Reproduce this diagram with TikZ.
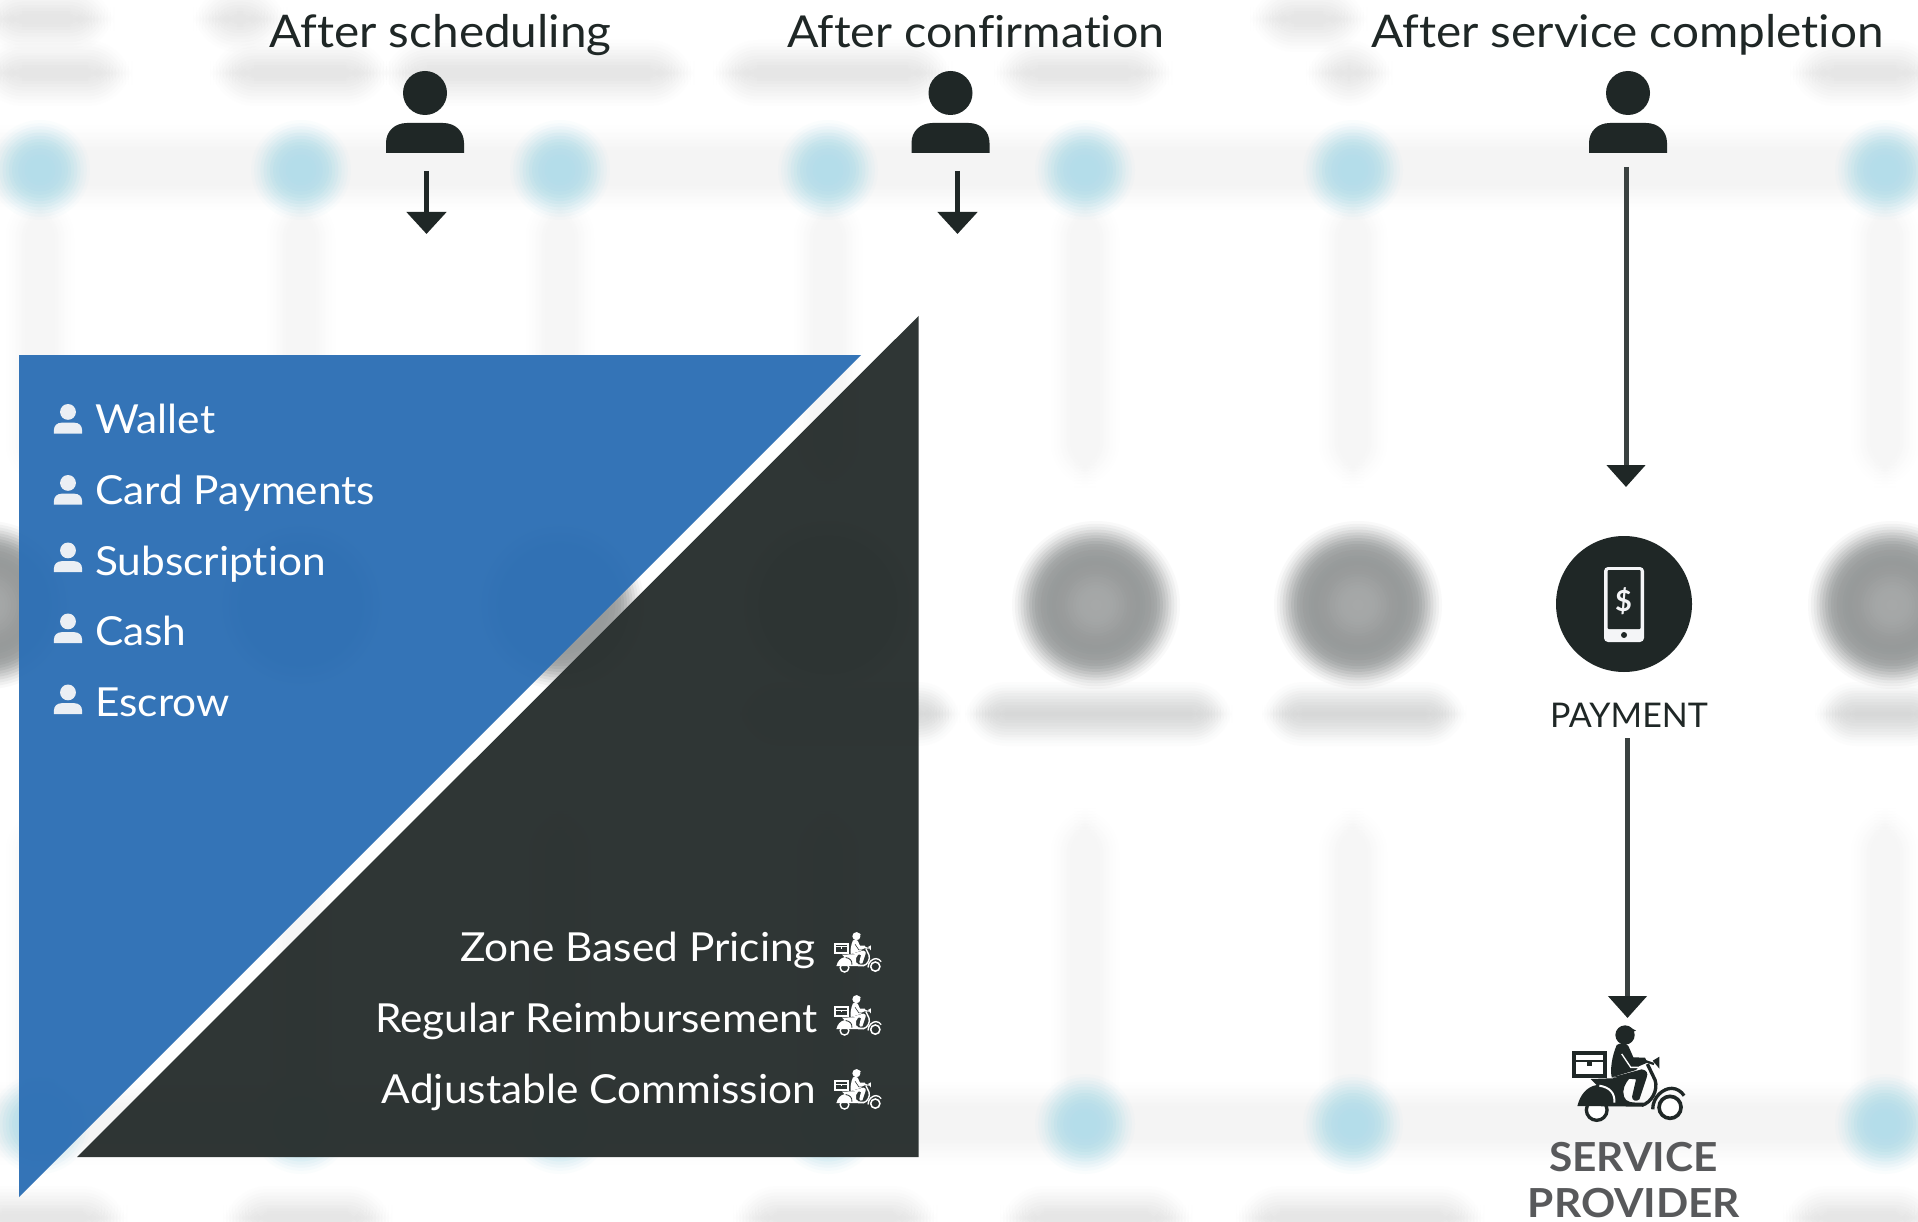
\documentclass[tikz,border=0pt]{standalone}
\usepackage{fontspec}
\usetikzlibrary{arrows.meta}
\setmainfont{Lato}
\newfontfamily\lightfont[FakeStretch=1.06,Ligatures=NoCommon]{Lato}
\newfontfamily\provfont[FakeStretch=1.06]{Lato}
\definecolor{ink}{HTML}{1F2726}
\definecolor{stem}{HTML}{3A4140}
\definecolor{boxblue}{HTML}{2E70B5}
\definecolor{boxdark}{HTML}{2B3231}
\definecolor{softwhite}{HTML}{EBEFF4}
\definecolor{phonewhite}{HTML}{F4F5F7}
\definecolor{dotblue}{HTML}{AEDDEA}
\definecolor{bandgrey}{HTML}{F4F4F4}
\definecolor{stemgrey}{HTML}{F6F6F6}
\definecolor{blobgrey}{HTML}{8C9090}
\definecolor{blobcore}{HTML}{ACAEAE}
\definecolor{textblur}{HTML}{D6D7D7}
\definecolor{topblur}{HTML}{E6E6E6}
\definecolor{headgrey}{HTML}{58595B}
\newcommand\blurbox[6]{%
  \foreach \k in {-7,...,7}{%
    \pgfmathsetmacro\dd{\k*#6/7}
    \pgfmathsetmacro\rr{#6+\dd+1}
    \pgfmathsetmacro\aa{0.05+0.17*(1-abs(\k)/7)}
    \fill[#5,opacity=\aa,rounded corners=\rr pt]
      ({#1-\dd},{#2-\dd}) rectangle ({#3+\dd},{#4+\dd});
  }}
\newcommand\blurdisc[5]{%
  \foreach \k in {-7,...,7}{%
    \pgfmathsetmacro\dd{#3+\k*#5/7}
    \pgfmathsetmacro\aa{0.05+0.17*(1-abs(\k)/7)}
    \fill[#4,opacity=\aa] (#1,#2) circle[radius=\dd];
  }}
\newcommand\personicon[4]{%
  \begin{scope}[shift={(#1,#2)},scale=#3]
    \fill[#4] (0,22) circle[radius=22];
    \fill[#4] (-39,82) -- (-39,72) .. controls (-39,60) and (-30,52) .. (-18,52)
      -- (18,52) .. controls (30,52) and (39,60) .. (39,72) -- (39,82) -- cycle;
  \end{scope}}
\newcommand\scooter[5]{%
  \begin{scope}[shift={(#1,#2)},scale=#3/3,shift={(-215,-135)}]
    \draw[#4,fill=#5,line width=10/3*#3 pt] (290,390) circle[radius=31];
    \draw[#4,fill=#5,line width=11/3*#3 pt] (510,382) circle[radius=33];
    \fill[#4] (232,378) .. controls (240,345) and (260,320) .. (290,315) -- (272,297)
      -- (390,293) .. controls (375,310) and (365,330) .. (372,350)
      .. controls (378,368) and (395,368) .. (430,368) -- (430,380) -- cycle;
    \draw[#5,line width=6/3*#3 pt] (298,317) .. controls (330,322) and (345,340) .. (343,368);
    \draw[#4,line width=10/3*#3 pt] (442,252) -- (465,300) .. controls (475,330) and (455,368) .. (425,376);
    \draw[#4,line width=10/3*#3 pt] (458,388) .. controls (458,350) and (490,325) .. (515,325)
      .. controls (530,325) and (545,335) .. (552,347);
    \fill[#4] (335,292) -- (425,268) .. controls (440,270) and (445,280) .. (440,292)
      -- (418,358) .. controls (410,366) and (395,362) .. (396,350) -- (408,298) -- cycle;
    \fill[#4] (350,195) .. controls (360,188) and (378,188) .. (385,198) -- (400,232) -- (435,233)
      -- (442,248) -- (418,258) -- (408,270) -- (335,292) .. controls (330,270) and (335,230) .. (350,195) -- cycle;
    \draw[#5,line width=4/3*#3 pt] (365,222) -- (392,262) -- (418,262);
    \fill[#4] (375,165) circle[radius=29];
    \fill[#4] (382,138) -- (408,152) -- (385,160) -- cycle;
    \fill[#4] (458,242) -- (478,230) -- (478,266) -- cycle;
    \draw[#4,line width=7/3*#3 pt] (432,242) -- (462,252);
    \draw[#4,line width=12/3*#3 pt] (221,219) rectangle (316,287);
    \draw[#4,line width=7/3*#3 pt] (221,242) -- (316,242);
    \fill[#4] (262,242) rectangle (275,258);
  \end{scope}}
\tikzset{
  headtext/.style={inner sep=0pt,text=ink,font=\lightfont\fontsize{45}{45}\selectfont},
  listtext/.style={inner sep=0pt,text=white,font=\lightfont\fontsize{40}{40}\selectfont},
  capstext/.style={inner sep=0pt,text=ink,font=\fontsize{34}{34}\selectfont},
  provtext/.style={inner sep=0pt,text=headgrey,font=\provfont\bfseries\fontsize{40}{40}\selectfont},
  arrowshort/.style={draw=ink,line width=5pt,-{Triangle[length=22pt,width=39pt,color=ink,fill=ink]}},
  arrowlong/.style={draw=stem,line width=5pt,-{Triangle[length=22pt,width=38pt,color=ink,fill=ink]}},
}
\begin{document}
\begin{tikzpicture}[x=1pt,y=-1pt]
\clip (0,0) rectangle (1918,1222);
\fill[white] (0,0) rectangle (1918,1222);
% blurred backdrop: bands and stems
\blurbox{-30}{150}{1950}{186}{bandgrey}{24}
\blurbox{-30}{1106}{1950}{1140}{bandgrey}{24}
\foreach \cx in {40,301,560,828,1085,1353,1885}{
  \blurbox{\cx-12}{215}{\cx+12}{465}{stemgrey}{22}
  \blurbox{\cx-12}{830}{\cx+12}{1100}{stemgrey}{22}
  \blurdisc{\cx}{170}{28}{dotblue}{22}
  \blurdisc{\cx}{1124}{28}{dotblue}{22}
}
% blurred discs
\foreach \cx in {-12,301,560,828,1096,1358,1892}{
  \blurdisc{\cx}{605}{64}{blobgrey}{20}
  \blurdisc{\cx}{605}{20}{blobcore}{20}
}
% blurred texts
\blurbox{0}{8}{92}{30}{topblur}{22}
\blurbox{215}{8}{265}{30}{topblur}{22}
\blurbox{1272}{8}{1345}{30}{topblur}{22}
\blurbox{0}{62}{110}{84}{topblur}{22}
\blurbox{232}{62}{368}{84}{topblur}{22}
\blurbox{405}{62}{672}{84}{topblur}{22}
\blurbox{735}{62}{930}{84}{topblur}{22}
\blurbox{1016}{62}{1150}{84}{topblur}{22}
\blurbox{1328}{62}{1370}{84}{topblur}{22}
\blurbox{1812}{62}{1918}{84}{topblur}{22}
\blurbox{985}{702}{1212}{726}{textblur}{20}
\blurbox{1282}{702}{1446}{726}{textblur}{20}
\blurbox{1835}{702}{1930}{726}{textblur}{20}
\blurbox{760}{702}{940}{726}{textblur}{20}
\blurbox{-20}{1208}{105}{1228}{topblur}{22}
\blurbox{245}{1208}{370}{1228}{topblur}{22}
\blurbox{755}{1208}{915}{1228}{topblur}{22}
\blurbox{1022}{1208}{1170}{1228}{topblur}{22}
\blurbox{1258}{1208}{1462}{1228}{topblur}{22}
\blurbox{1805}{1208}{1918}{1228}{topblur}{22}
% panels
\fill[boxblue,opacity=0.97] (19,355) -- (861,355) -- (19,1197) -- cycle;
\fill[boxdark,opacity=0.98] (918.5,316) -- (918.5,1157) -- (77,1157) -- cycle;
% headers
\node[headtext,anchor=base west] (hsched) at (269,48) {After scheduling};
\node[headtext,anchor=base west,font=\lightfont\fontsize{44}{44}\selectfont] (hconf) at (787,48) {After confirmation};
\node[headtext,anchor=base west] (hserv) at (1371,48) {After service completion};
% customer icons and arrows
\personicon{425}{71}{1}{ink}
\personicon{950.5}{71}{1}{ink}
\personicon{1628}{71}{1}{ink}
\coordinate (a1s) at (426.5,171); \coordinate (a1e) at (426.5,234);
\coordinate (a2s) at (957.5,171); \coordinate (a2e) at (957.5,234);
\coordinate (a3s) at (1626,167); \coordinate (a3e) at (1626,487);
\draw[arrowshort] (a1s) -- (a1e);
\draw[arrowshort] (a2s) -- (a2e);
\draw[arrowlong] (a3s) -- (a3e);
% list
\foreach \yy/\nm/\tx in {433/wallet/Wallet,504/card/Card Payments,575/subs/Subscription,645/cash/Cash,716/escrow/Escrow}{
  \node[listtext,anchor=base west] (\nm) at (95,\yy) {\tx};
}
\personicon{68}{404}{0.36}{softwhite}
\personicon{68}{475}{0.36}{softwhite}
\personicon{68}{542.5}{0.36}{softwhite}
\personicon{68}{613.5}{0.36}{softwhite}
\personicon{68}{684.5}{0.36}{softwhite}
% right list
\node[listtext,anchor=base east] (zone) at (816,961) {Zone Based Pricing};
\node[listtext,anchor=base east] (regular) at (818,1032) {Regular Reimbursement};
\node[listtext,anchor=base east] (adjust) at (816,1103) {Adjustable Commission};
\scooter{834}{932}{0.42}{white}{boxdark}
\scooter{834}{995}{0.42}{white}{boxdark}
\scooter{834}{1069}{0.42}{white}{boxdark}
% payment
\node[circle,fill=ink,minimum size=136pt,inner sep=0pt] (paydisc) at (1624,604) {};
\fill[phonewhite,rounded corners=4pt] (1604,567) rectangle (1644,642);
\fill[ink,rounded corners=1pt] (1607.5,570) rectangle (1640.5,629);
\fill[ink] (1624,635) circle[radius=3];
\node[inner sep=0pt,text=phonewhite,font=\bfseries\fontsize{29}{29}\selectfont] (dollar) at (1623.5,601) {\$};
\node[capstext,anchor=base] (paylabel) at (1629,727) {PAYMENT};
\coordinate (a4s) at (1627.5,738); \coordinate (a4e) at (1627.5,1018);
\draw[arrowlong] (a4s) -- (a4e);
% provider
\scooter{1571.7}{1025}{1}{ink}{white}
\node[provtext,anchor=base] (service) at (1633.5,1171) {SERVICE};
\node[provtext,anchor=base] (provider) at (1634,1217) {PROVIDER};
\end{tikzpicture}
\end{document}
